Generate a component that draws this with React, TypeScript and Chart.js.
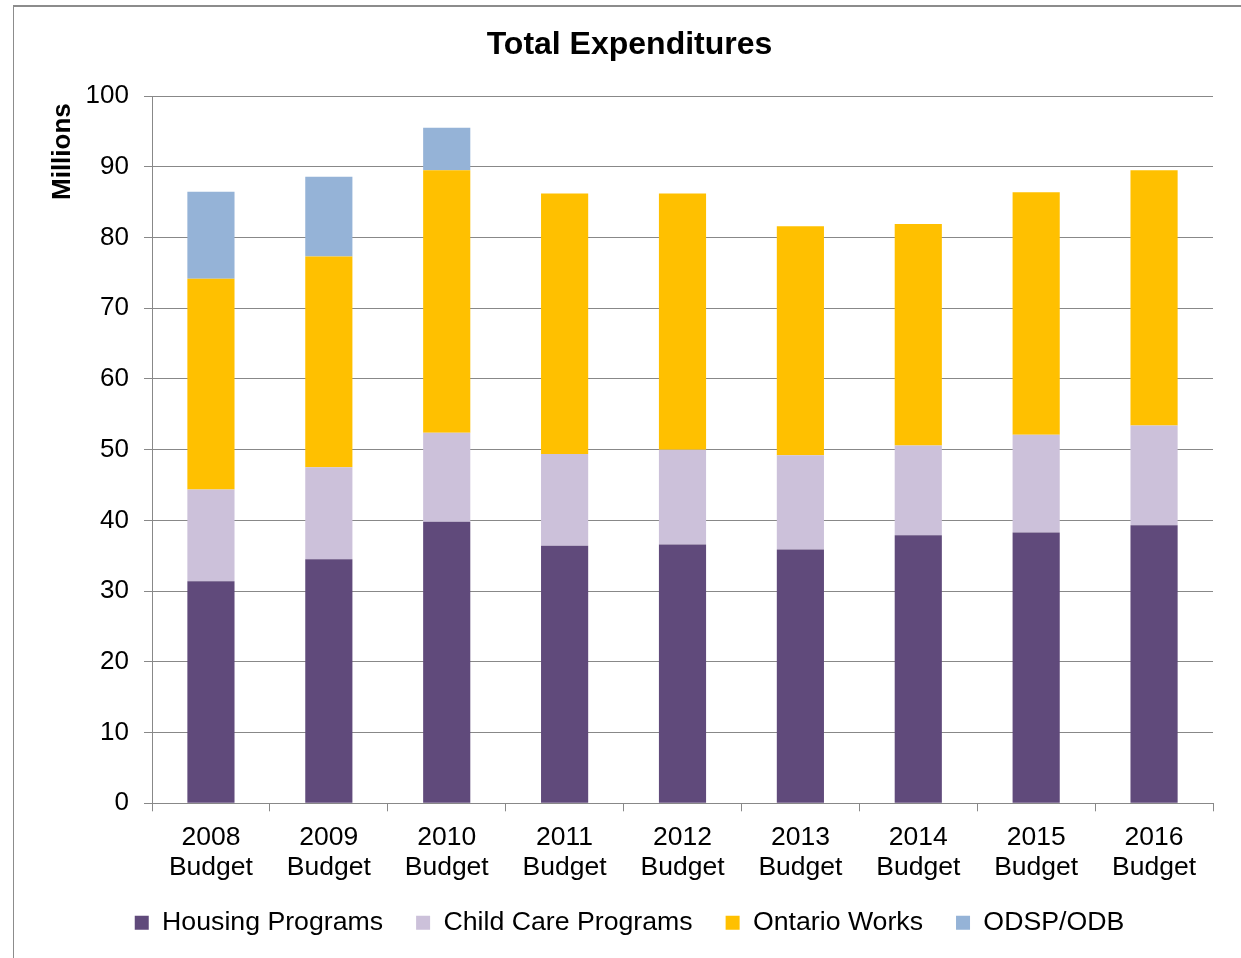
import React, { useEffect, useRef } from "react";
import { Chart, registerables } from "chart.js";

Chart.register(...registerables);

const categories = [
  ["2008", "Budget"],
  ["2009", "Budget"],
  ["2010", "Budget"],
  ["2011", "Budget"],
  ["2012", "Budget"],
  ["2013", "Budget"],
  ["2014", "Budget"],
  ["2015", "Budget"],
  ["2016", "Budget"],
];

const housingPrograms = [31.4, 34.5, 39.8, 36.4, 36.6, 35.9, 37.9, 38.3, 39.3];
const childCarePrograms = [12.95, 13.0, 12.6, 13.0, 13.4, 13.3, 12.7, 13.8, 14.1];
const ontarioWorks = [29.8, 29.8, 37.1, 36.8, 36.2, 32.4, 31.3, 34.3, 36.1];
const odspOdb = [12.3, 11.3, 6.0, 0, 0, 0, 0, 0, 0];

const yTicks = { min: 0, max: 100, step: 10 };

const FONT = "'Liberation Sans', Arial, sans-serif";
const GRID = "#888888";

export default function App() {
  const canvasRef = useRef<HTMLCanvasElement | null>(null);

  useEffect(() => {
    if (!canvasRef.current) return;
    const chart = new Chart(canvasRef.current, {
      type: "bar",
      data: {
        labels: categories,
        datasets: [
          { label: "Housing Programs", data: housingPrograms, backgroundColor: "#604A7B" },
          { label: "Child Care Programs", data: childCarePrograms, backgroundColor: "#CCC1DA" },
          { label: "Ontario Works", data: ontarioWorks, backgroundColor: "#FFC000" },
          { label: "ODSP/ODB", data: odspOdb, backgroundColor: "#95B3D7" },
        ],
      },
      options: {
        responsive: false,
        animation: false,
        devicePixelRatio: 1,
        layout: { padding: { left: 18, right: 0, top: 0, bottom: 12 } },
        datasets: {
          bar: { categoryPercentage: 0.8, barPercentage: 0.5, borderWidth: 0 },
        },
        plugins: {
          title: {
            display: true,
            text: "Total Expenditures",
            color: "#000",
            font: { family: FONT, size: 32, weight: "bold", lineHeight: 1.2 },
            padding: { top: 26, bottom: 31.6 },
          },
          legend: {
            position: "bottom",
            labels: {
              color: "#000",
              font: { family: FONT, size: 26.7 },
              boxWidth: 14,
              boxHeight: 14,
              padding: 33,
            },
          },
          tooltip: { enabled: false },
        },
        scales: {
          x: {
            stacked: true,
            grid: {
              display: true,
              drawOnChartArea: false,
              drawTicks: true,
              tickLength: 8,
              color: GRID,
              lineWidth: 1,
            },
            border: { display: true, color: GRID, width: 1 },
            ticks: {
              color: "#000",
              font: { family: FONT, size: 26.5, lineHeight: 1.14 },
              padding: 11,
              maxRotation: 0,
              autoSkip: false,
            },
            afterFit: (s: any) => {
              s.height = 73;
              s._computeLabelArea = function () {
                return { top: this.top, left: 0, bottom: this.chart.height, right: this.chart.width };
              };
            },
          },
          y: {
            stacked: true,
            min: yTicks.min,
            max: yTicks.max,
            grid: {
              color: GRID,
              lineWidth: 1,
              drawTicks: true,
              tickLength: 8,
            },
            border: { display: true, color: GRID, width: 1 },
            ticks: {
              stepSize: yTicks.step,
              color: "#000",
              font: { family: FONT, size: 26 },
              padding: 15,
            },
            title: {
              display: true,
              text: "Millions ",
              align: "end",
              color: "#000",
              font: { family: FONT, size: 26, weight: "bold", lineHeight: 1.2 },
              padding: { top: 29, bottom: 0 },
            },
            afterFit: (s: any) => {
              s.width = 134;
            },
          },
          yRight: {
            type: "linear",
            position: "right",
            display: true,
            grid: { display: false, drawTicks: false },
            border: { display: false },
            ticks: { display: false },
            afterFit: (s: any) => {
              s.width = 28;
            },
          },
        },
      },
    } as any);
    return () => chart.destroy();
  }, []);

  return (
    <div
      style={{
        position: "fixed",
        left: 0,
        top: 0,
        width: 1241,
        height: 958,
        overflow: "hidden",
        background: "#fff",
      }}
    >
      <div
        style={{
          position: "absolute",
          left: 13,
          top: 5,
          width: 1400,
          height: 1100,
          borderLeft: "1px solid #8c8c8c",
          borderTop: "2px solid #8c8c8c",
          boxSizing: "border-box",
        }}
      />
      <canvas
        ref={canvasRef}
        width={1241}
        height={958}
        style={{ position: "absolute", left: 0, top: 0, width: 1241, height: 958 }}
      />
    </div>
  );
}
